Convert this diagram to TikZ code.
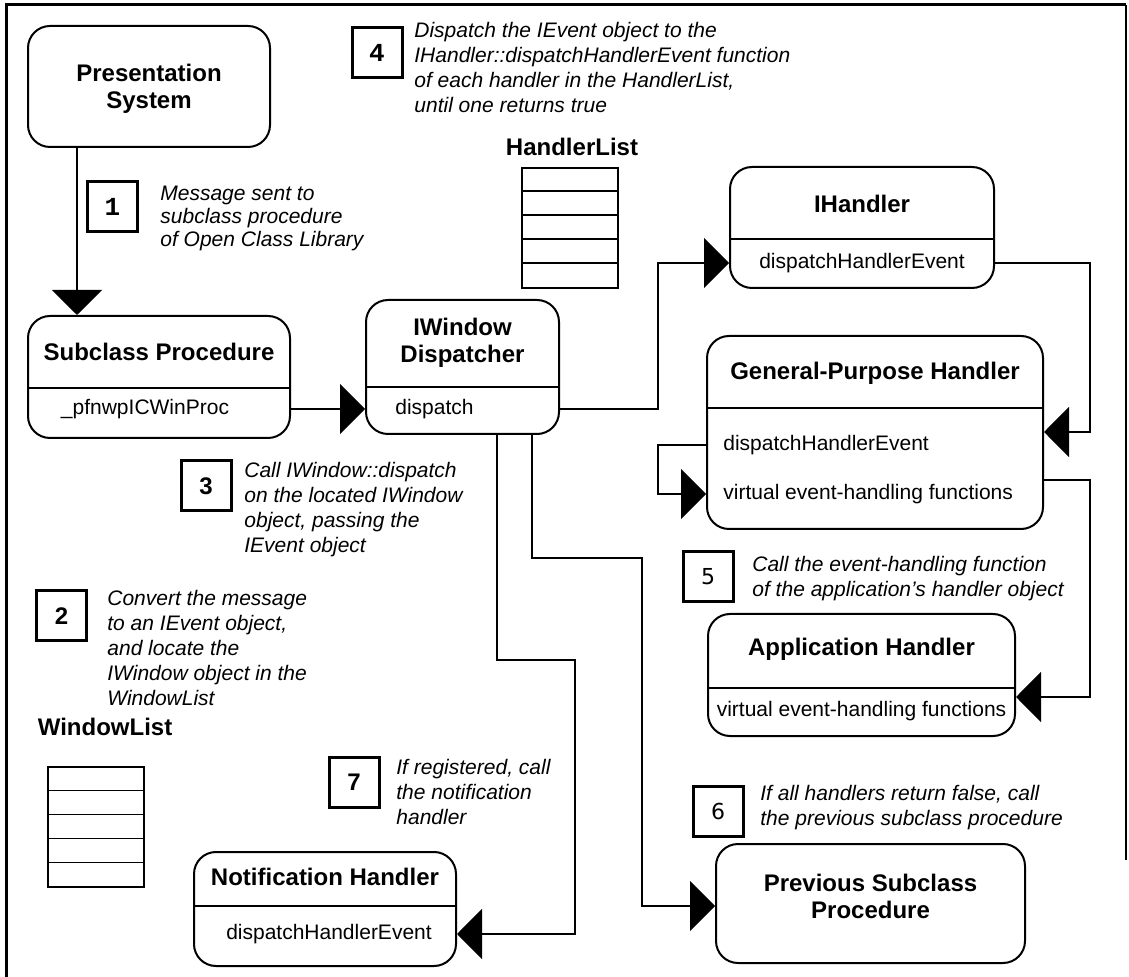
\documentclass[tikz,border=0pt]{standalone}
\usepackage{fontspec}
\setmainfont{Liberation Sans}
\newfontfamily\monofont{Liberation Mono}
\newfontfamily\dvsans{DejaVu Sans}
\usetikzlibrary{arrows.meta,calc}

\begin{document}
\begin{tikzpicture}[x=0.5pt,y=-0.5pt,
  box/.style={draw, line width=1pt, rounded corners=11pt, inner sep=0pt},
  divider/.style={line width=1pt},
  title/.style={font=\fontsize{12}{13.5}\selectfont\bfseries, align=center, inner sep=0pt},
  method/.style={font=\fontsize{10.5}{12}\selectfont, inner sep=0pt},
  note/.style={font=\fontsize{10.5}{12.5}\selectfont\itshape, align=left, inner sep=0pt, anchor=north west},
  numbox/.style={draw, line width=1.5pt, minimum size=25pt, inner sep=0pt, font=\fontsize{12}{12}\selectfont\bfseries},
  conn/.style={line width=0.75pt},
  arr/.style={conn, -{Triangle[length=12.5pt,width=25pt]}},
  listbox/.style={draw, line width=0.75pt, minimum width=48pt, minimum height=60pt, inner sep=0pt},
]
\useasboundingbox (0,0) rectangle (1129,977);

% page frame
\draw[line width=1.5pt] (6,977) -- (6,5) -- (1126,5);
\draw[line width=1pt] (1126,5) -- (1126,860);

% ---------- boxes ----------
\node[box, minimum width=121pt, minimum height=60.5pt] (ps) at (149,86.5) {};
\node[title] (pst) at (149,88.5) {Presentation\\System};

\node[box, minimum width=131pt, minimum height=61pt] (sp) at (159,377) {};
\draw[divider] ($(sp.west)+(0,11)$) -- ($(sp.east)+(0,11)$);
\node[title] (spt) at (159,352) {Subclass Procedure};
\node[method] (spm) at (145,409) {\_pfnwpICWinProc};

\node[box, minimum width=96.5pt, minimum height=67pt] (iwd) at (462.5,367) {};
\draw[divider] ($(iwd.west)+(0,20)$) -- ($(iwd.east)+(0,20)$);
\node[title] (iwdt) at (462.5,343) {IWindow\\Dispatcher};
\node[method, anchor=west] (iwdm) at (395,409) {dispatch};

\node[box, minimum width=132pt, minimum height=60.5pt] (ih) at (862,227.5) {};
\draw[divider] ($(ih.west)+(0,11.5)$) -- ($(ih.east)+(0,11.5)$);
\node[title] (iht) at (862,204) {IHandler};
\node[method] (ihm) at (862,263) {dispatchHandlerEvent};

\node[box, minimum width=168pt, minimum height=96.5pt] (gph) at (875,432.5) {};
\draw[divider] ($(gph.west)+(0,-24.5)$) -- ($(gph.east)+(0,-24.5)$);
\node[title] (gpht) at (875,373) {General-Purpose Handler};
\node[method, anchor=west] (gm1) at (723,445) {dispatchHandlerEvent};
\node[method, anchor=west] (gm2) at (723,494) {virtual event-handling functions};

\node[box, minimum width=153.5pt, minimum height=61pt] (ah) at (861.5,675) {};
\draw[divider] ($(ah.west)+(0,13)$) -- ($(ah.east)+(0,13)$);
\node[title] (aht) at (861.5,649) {Application Handler};
\node[method] (ahm) at (861.5,711) {virtual event-handling functions};

\node[box, minimum width=131pt, minimum height=57pt] (nh) at (325,909) {};
\draw[divider] ($(nh.west)+(0,-3)$) -- ($(nh.east)+(0,-3)$);
\node[title] (nht) at (325,877) {Notification Handler};
\node[method] (nhm) at (329,934) {dispatchHandlerEvent};

\node[box, minimum width=154.5pt, minimum height=59.5pt] (psp) at (870.5,903.5) {};
\node[title] (pspt) at (870.5,896) {Previous Subclass\\Procedure};

% ---------- lists ----------
\node[title] (hlt) at (572,147) {HandlerList};
\node[listbox] (hl) at (570,228) {};
\foreach \i in {1,...,4} \draw[conn] ($(hl.north west)+(0,24*\i)$) -- ($(hl.north east)+(0,24*\i)$);

\node[title] (wlt) at (105,727) {WindowList};
\node[listbox] (wl) at (96,827) {};
\foreach \i in {1,...,4} \draw[conn] ($(wl.north west)+(0,24*\i)$) -- ($(wl.north east)+(0,24*\i)$);

% ---------- numbered notes ----------
\node[numbox, font=\fontsize{13}{13}\selectfont\bfseries\monofont] (n1) at (112.5,207) {1};
\node[note, font=\fontsize{10.5}{11.5}\selectfont\itshape] (t1) at (160,186) {Message sent to\\subclass procedure\\of Open Class Library};

\node[numbox, font=\fontsize{13}{13}\selectfont\bfseries\monofont] (n4) at (377,53) {4};
\node[note] (t4) at (414,22) {Dispatch the IEvent object to the\\IHandler::dispatchHandlerEvent function\\of each handler in the HandlerList,\\until one returns true};

\node[numbox] (n3) at (206,486) {3};
\node[note] (t3) at (244,462) {Call IWindow::dispatch\\on the located IWindow\\object, passing the\\IEvent object};

\node[numbox] (n2) at (61.5,616) {2};
\node[note] (t2) at (107,590) {Convert the message\\to an IEvent object,\\and locate the\\IWindow object in the\\WindowList};

\node[numbox, font=\fontsize{11}{11}\selectfont\dvsans] (n5) at (708,577) {5};
\node[note] (t5) at (752,556) {Call the event-handling function\\of the application's handler object};

\node[numbox, font=\fontsize{11}{11}\selectfont\dvsans] (n6) at (718,811) {6};
\node[note] (t6) at (760,785) {If all handlers return false, call\\the previous subclass procedure};

\node[numbox] (n7) at (354,782) {7};
\node[note] (t7) at (396,759) {If registered, call\\the notification\\handler};

% ---------- routing columns / rows ----------
\coordinate (colA) at (658,0);
\coordinate (colB) at (1090,0);
\coordinate (gin)  at (0,432);
\coordinate (gout) at (0,480);
\coordinate (ain)  at (0,697);
\coordinate (colN) at (497,0);
\coordinate (bendN) at (575,660);
\coordinate (colP) at (532,0);
\coordinate (bendP) at (642,558);
\coordinate (pin)  at (0,906);

% ---------- connectors ----------
\draw[arr] ($(ps.south west)+(50,0)$) -- ($(sp.north west)+(50,0)$);
\draw[arr] (sp.east |- iwdm) -- (iwd.west |- iwdm);
\draw[arr] (iwd.east |- iwdm) -| (colA |- ihm) -- (ih.west |- ihm);
\draw[arr] (ih.east |- ihm) -| (colB |- gin) -- (gph.east |- gin);
\draw[arr] (gph.west |- gm1) -| (colA |- gm2) -- (gph.west |- gm2);
\draw[arr] (gph.east |- gout) -| (colB |- ain) -- (ah.east |- ain);
\draw[arr] (iwd.south -| colN) |- (bendN) |- (nh.east |- nhm);
\draw[arr] (iwd.south -| colP) |- (bendP) |- (psp.west |- pin);

\end{tikzpicture}
\end{document}
